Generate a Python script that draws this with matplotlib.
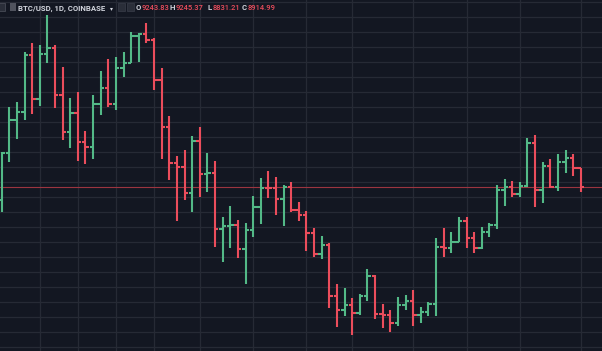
import matplotlib.pyplot as plt
from matplotlib.patches import Rectangle
import numpy as np

# BTC/USD daily bars (COINBASE), oldest first
opens = [8705, 9483, 10038, 10176, 11121, 10383, 11138, 11233, 10455, 9833,
         10150, 9676, 9593, 10300, 10566, 10305, 10900, 10993, 11438, 11471,
         11371, 10705, 9926, 9316, 9260, 8816, 9693, 9138, 9160, 8216,
         8271, 8288, 7883, 8205, 8593, 8910, 8900, 8721, 8926, 8538,
         8455, 8150, 7805, 7955, 7105, 6871, 6955, 6826, 7105, 7438,
         6805, 6795, 6660, 6955, 7026, 6788, 6843, 6971, 7926, 7905,
         8010, 8360, 8066, 7910, 8166, 8288, 8871, 8916, 8805, 8938,
         9660, 8871, 9276, 8926, 9343, 9400, 9243.83]
highs = [9510, 10260, 10343, 11176, 11316, 11288, 11788, 11288, 10916, 10410,
         10500, 9860, 10455, 10855, 11050, 11083, 11166, 11500, 11493, 11650,
         11410, 10900, 10110, 9438, 9538, 9771, 9916, 9493, 9355, 8426,
         8610, 8371, 8326, 8771, 9066, 9193, 9093, 8955, 9010, 8676,
         8526, 8233, 8110, 7983, 7300, 7233, 7076, 7133, 7550, 7455,
         6971, 6871, 7093, 7121, 7205, 6926, 7010, 8071, 8243, 8176,
         8416, 8416, 8176, 8260, 8316, 8955, 9055, 9026, 9010, 9743,
         9788, 9343, 9383, 9466, 9538, 9466, 9245.37]
lows = [8510, 9333, 9716, 10038, 10138, 10271, 10983, 10233, 9705, 9566,
        9355, 9305, 9383, 10121, 10250, 10205, 10750, 10993, 11010, 11326,
        10538, 9383, 9038, 8360, 8705, 8510, 8760, 8843, 7916, 7666,
        7900, 7743, 7300, 8093, 8305, 8733, 8455, 8271, 8500, 8360,
        7860, 7750, 7716, 6900, 6593, 6776, 6455, 6788, 7021, 6716,
        6566, 6510, 6610, 6871, 6610, 6660, 6771, 6771, 7755, 7826,
        8000, 7900, 7816, 7883, 8093, 8216, 8605, 8750, 8760, 8926,
        8593, 8650, 8900, 8855, 9160, 9105, 8831.21]
closes = [9483, 10038, 10176, 11121, 10383, 11138, 11233, 10455, 9833, 10150,
          9676, 9593, 10300, 10566, 10305, 10900, 10993, 11438, 11471, 11371,
          10705, 9926, 9316, 9260, 8816, 9693, 9138, 9160, 8216, 8271,
          8288, 7883, 8205, 8593, 8910, 8900, 8721, 8926, 8538, 8455,
          8150, 7805, 7955, 7105, 6871, 6955, 6826, 7105, 7438, 6805,
          6795, 6660, 6955, 7026, 6788, 6843, 6971, 7926, 7905, 8010,
          8360, 8066, 7910, 8166, 8288, 8871, 8916, 8805, 8938, 9660,
          8871, 9276, 8926, 9343, 9400, 9243.83, 8914.99]

# day index of the vertical time grid lines
grid_days = [5, 10, 15, 20, 26, 33, 40, 46, 54, 61, 68, 76]
price_grid = np.arange(6250, 12001, 250)

BG = '#131722'
GRID = '#262a35'
UP = '#53b987'
DOWN = '#eb4d5c'
TXT = '#d1d4dc'

fig = plt.figure(figsize=(6.02, 3.51), dpi=100, facecolor=BG)
ax = fig.add_axes([0, 0, 1, 1], facecolor=BG)

x = np.arange(len(closes))
o = np.array(opens)
c = np.array(closes)
cols = np.where(c >= o, UP, DOWN)

ax.set_xticks(grid_days)
ax.set_yticks(price_grid)
ax.grid(True, color=GRID, lw=0.9)
ax.set_axisbelow(True)
ax.tick_params(length=0, labelleft=False, labelbottom=False)
for s in ax.spines.values():
    s.set_visible(False)

# last price line
ax.axhline(closes[-1], color='#9c3540', lw=0.8, zorder=1)

ax.vlines(x, lows, highs, colors=cols, lw=1.5, capstyle='butt', zorder=3)
ax.hlines(o, x - 0.45, x, colors=cols, lw=1.5, capstyle='butt', zorder=3)
ax.hlines(c, x, x + 0.45, colors=cols, lw=1.5, capstyle='butt', zorder=3)

ax.set_xlim(-0.22, 78.78)
ax.set_ylim(6188, 12038)

# header
W, H = 602.0, 351.0
def px(xp, yp):
    return xp / W, 1 - yp / H

def box(xp, w, fc, ec):
    fig.add_artist(Rectangle(px(xp, 10.5), w / W, 7 / H, transform=fig.transFigure,
                             fc=fc, ec=ec, lw=0.5))

box(-2, 7, '#2a2e39', '#50535e')
box(10, 6, '#50535e', 'none')
box(118, 7, '#2a2e39', '#3a3e4a')
box(127, 7, '#2a2e39', '#3a3e4a')

hdr = dict(fontsize=5.6, va='baseline', ha='left', family=['Roboto', 'DejaVu Sans'],
           fontweight='bold')
fig.text(*px(18, 10.5), 'BTC/USD, 1D, COINBASE', color=TXT, **hdr)
fig.text(*px(110, 10), '▾', color=TXT, fontsize=4.2, va='baseline', ha='left',
         family='DejaVu Sans')

ohlc = [('O', opens[-1], 136), ('H', highs[-1], 170), ('L', lows[-1], 207), ('C', closes[-1], 242)]
val = dict(hdr, fontsize=5.4, fontweight='medium')
for lab, v, xp in ohlc:
    fig.text(*px(xp, 10.5), lab, color=TXT, **hdr)
    fig.text(*px(xp + 6, 10.5), f'{v:.2f}', color=DOWN, **val)

fig.savefig('out.png', dpi=100, facecolor=BG)
